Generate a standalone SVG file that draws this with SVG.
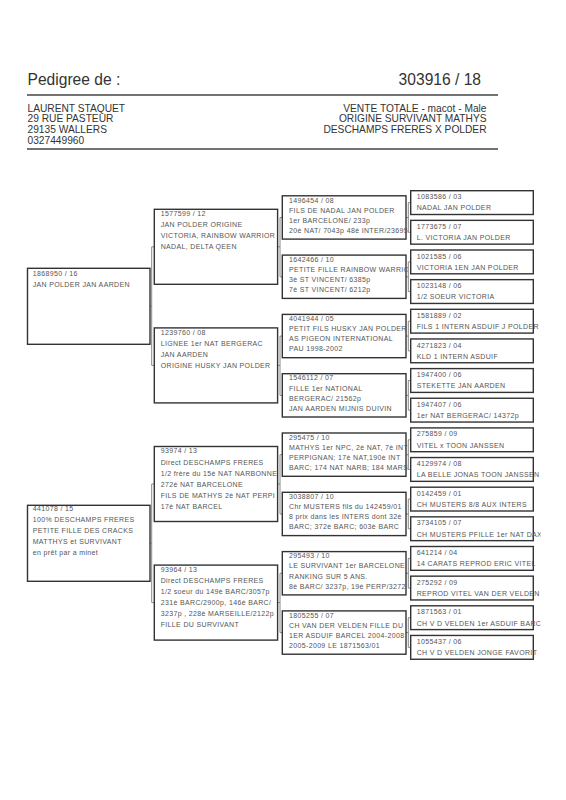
<svg xmlns="http://www.w3.org/2000/svg" width="566" height="800" viewBox="0 0 566 800">
<style>
.bg{fill:#fff}
.box{fill:#fff;stroke:#333;stroke-width:1.4}
.t{font-family:"Liberation Sans",Arial,sans-serif;font-size:7px;letter-spacing:0.35px;fill:#555}
.h1{font-family:"Liberation Sans",Arial,sans-serif;font-size:15.6px;fill:#333}
.h2{font-family:"Liberation Sans",Arial,sans-serif;font-size:10.2px;fill:#333}
.rule{stroke:#444;stroke-width:1.3}
.con{fill:none;stroke:#888;stroke-width:1}
</style>
<rect class="bg" x="0" y="0" width="566" height="800"/>
<g id="header">
<text class="h1" x="27.5" y="85">Pedigree de :</text>
<text class="h1" x="481" y="85" text-anchor="end">303916 / 18</text>
<line class="rule" x1="27" y1="95" x2="498" y2="95"/>
<text class="h2" x="27.5" y="111.5">LAURENT STAQUET</text>
<text class="h2" x="27.5" y="122.3">29 RUE PASTEUR</text>
<text class="h2" x="27.5" y="133">29135 WALLERS</text>
<text class="h2" x="27.5" y="143.8">0327449960</text>
<text class="h2" x="486.5" y="111.5" text-anchor="end">VENTE TOTALE - macot - Male</text>
<text class="h2" x="486.5" y="122.3" text-anchor="end">ORIGINE SURVIVANT MATHYS</text>
<text class="h2" x="486.5" y="133" text-anchor="end">DESCHAMPS FRERES X POLDER</text>
<line class="rule" x1="27" y1="149" x2="498" y2="149"/>
</g>
<g id="connectors">
<path class="con" d="M150 306.3H151.7M151.7 246.8V365.4M151.7 246.8H154.3M151.7 365.4H154.3"/>
<path class="con" d="M150 543.3H151.7M151.7 484V602.6M151.7 484H154.3M151.7 602.6H154.3"/>
<path class="con" d="M277.6 246.8H280M280 217.5V276.8M280 217.5H282.3M280 276.8H282.3"/>
<path class="con" d="M277.6 365.4H280M280 336.1V395.4M280 336.1H282.3M280 395.4H282.3"/>
<path class="con" d="M277.6 484H280M280 454.7V514M280 454.7H282.3M280 514H282.3"/>
<path class="con" d="M277.6 602.6H280M280 573.3V632.6M280 573.3H282.3M280 632.6H282.3"/>
<path class="con" d="M406 217.5H408.3M408.3 202.6V232.3M408.3 202.6H410.7M408.3 232.3H410.7"/>
<path class="con" d="M406 276.8H408.3M408.3 261.9V291.6M408.3 261.9H410.7M408.3 291.6H410.7"/>
<path class="con" d="M406 336.1H408.3M408.3 321.2V350.9M408.3 321.2H410.7M408.3 350.9H410.7"/>
<path class="con" d="M406 395.4H408.3M408.3 380.5V410.2M408.3 380.5H410.7M408.3 410.2H410.7"/>
<path class="con" d="M406 454.7H408.3M408.3 439.8V469.5M408.3 439.8H410.7M408.3 469.5H410.7"/>
<path class="con" d="M406 514H408.3M408.3 499.1V528.8M408.3 499.1H410.7M408.3 528.8H410.7"/>
<path class="con" d="M406 573.3H408.3M408.3 558.4V588.1M408.3 558.4H410.7M408.3 588.1H410.7"/>
<path class="con" d="M406 632.6H408.3M408.3 617.7V647.4M408.3 617.7H410.7M408.3 647.4H410.7"/>
</g>
<!-- Generation 1 -->
<g id="n1868950">
<rect class="box" x="27.5" y="268.3" width="122.5" height="76"/>
<text class="t" x="32.7" y="275.8">1868950 / 16</text>
<text class="t" x="32.7" y="286.8">JAN POLDER JAN AARDEN</text>
</g>
<g id="n441078">
<rect class="box" x="27.5" y="505.3" width="122.5" height="76"/>
<text class="t" x="32.7" y="511">441078 / 15</text>
<text class="t" x="32.7" y="522">100% DESCHAMPS FRERES</text>
<text class="t" x="32.7" y="533">PETITE FILLE DES CRACKS</text>
<text class="t" x="32.7" y="544">MATTHYS et  SURVIVANT</text>
<text class="t" x="32.7" y="555">en prêt par a minet</text>
</g>
<!-- Generation 2 -->
<g id="n1577599">
<rect class="box" x="154.3" y="209.3" width="123.3" height="75"/>
<svg x="154.3" y="209.3" width="123.3" height="75">
<text class="t" x="6.4" y="6.9">1577599 / 12</text>
<text class="t" x="6.4" y="18">JAN POLDER ORIGINE</text>
<text class="t" x="6.4" y="29.1">VICTORIA, RAINBOW WARRIOR</text>
<text class="t" x="6.4" y="40.2">NADAL, DELTA QEEN</text>
</svg>
</g>
<g id="n1239760">
<rect class="box" x="154.3" y="327.9" width="123.3" height="75"/>
<svg x="154.3" y="327.9" width="123.3" height="75">
<text class="t" x="6.4" y="6.9">1239760 / 08</text>
<text class="t" x="6.4" y="18">LIGNEE 1er NAT BERGERAC</text>
<text class="t" x="6.4" y="29.1">JAN AARDEN</text>
<text class="t" x="6.4" y="40.2">ORIGINE HUSKY JAN POLDER</text>
</svg>
</g>
<g id="n93974">
<rect class="box" x="154.3" y="446.5" width="123.3" height="75"/>
<svg x="154.3" y="446.5" width="123.3" height="75">
<text class="t" x="6.4" y="6.9">93974 / 13</text>
<text class="t" x="6.4" y="18">Direct DESCHAMPS FRERES</text>
<text class="t" x="6.4" y="29.1">1/2 frère du 15è NAT NARBONNE</text>
<text class="t" x="6.4" y="40.2">272è NAT BARCELONE</text>
<text class="t" x="6.4" y="51.3">FILS DE MATHYS 2è NAT PERPI</text>
<text class="t" x="6.4" y="62.4">17è NAT BARCEL</text>
</svg>
</g>
<g id="n93964">
<rect class="box" x="154.3" y="565.1" width="123.3" height="75"/>
<svg x="154.3" y="565.1" width="123.3" height="75">
<text class="t" x="6.4" y="6.9">93964 / 13</text>
<text class="t" x="6.4" y="18">Direct DESCHAMPS FRERES</text>
<text class="t" x="6.4" y="29.1">1/2 soeur du 149è BARC/3057p</text>
<text class="t" x="6.4" y="40.2">231è BARC/2900p, 146è BARC/</text>
<text class="t" x="6.4" y="51.3">3237p , 228è MARSEILLE/2122p</text>
<text class="t" x="6.4" y="62.4">FILLE DU SURVIVANT</text>
</svg>
</g>
<!-- Generation 3 -->
<g id="n1496454">
<rect class="box" x="282.3" y="195.8" width="123.7" height="43.3"/>
<svg x="282.3" y="195.8" width="125.5" height="43.3">
<text class="t" x="6.7" y="6.8">1496454 / 08</text>
<text class="t" x="6.7" y="16.9">FILS DE NADAL JAN POLDER</text>
<text class="t" x="6.7" y="27">1er BARCELONE/ 233p</text>
<text class="t" x="6.7" y="37.1">20è NAT/ 7043p 48è INTER/23695</text>
</svg>
</g>
<g id="n1642466">
<rect class="box" x="282.3" y="255.1" width="123.7" height="43.3"/>
<svg x="282.3" y="255.1" width="125.5" height="43.3">
<text class="t" x="6.7" y="6.8">1642466 / 10</text>
<text class="t" x="6.7" y="16.9">PETITE FILLE RAINBOW WARRIOR</text>
<text class="t" x="6.7" y="27">3è ST VINCENT/ 6385p</text>
<text class="t" x="6.7" y="37.1">7è ST VINCENT/ 6212p</text>
</svg>
</g>
<g id="n4041944">
<rect class="box" x="282.3" y="314.4" width="123.7" height="43.3"/>
<svg x="282.3" y="314.4" width="125.5" height="43.3">
<text class="t" x="6.7" y="6.8">4041944 / 05</text>
<text class="t" x="6.7" y="16.9">PETIT FILS HUSKY JAN POLDER</text>
<text class="t" x="6.7" y="27">AS PIGEON INTERNATIONAL</text>
<text class="t" x="6.7" y="37.1">PAU 1998-2002</text>
</svg>
</g>
<g id="n1546112">
<rect class="box" x="282.3" y="373.7" width="123.7" height="43.3"/>
<svg x="282.3" y="373.7" width="125.5" height="43.3">
<text class="t" x="6.7" y="6.8">1546112 / 07</text>
<text class="t" x="6.7" y="16.9">FILLE 1er NATIONAL</text>
<text class="t" x="6.7" y="27">BERGERAC/ 21562p</text>
<text class="t" x="6.7" y="37.1">JAN AARDEN MIJNIS DUIVIN</text>
</svg>
</g>
<g id="n295475">
<rect class="box" x="282.3" y="433" width="123.7" height="43.3"/>
<svg x="282.3" y="433" width="125.5" height="43.3">
<text class="t" x="6.7" y="6.8">295475 / 10</text>
<text class="t" x="6.7" y="16.9">MATHYS 1er NPC, 2è NAT, 7è INT</text>
<text class="t" x="6.7" y="27">PERPIGNAN; 17è NAT,190è INT</text>
<text class="t" x="6.7" y="37.1">BARC; 174 NAT NARB; 184 MARS</text>
</svg>
</g>
<g id="n3038807">
<rect class="box" x="282.3" y="492.3" width="123.7" height="43.3"/>
<svg x="282.3" y="492.3" width="125.5" height="43.3">
<text class="t" x="6.7" y="6.8">3038807 / 10</text>
<text class="t" x="6.7" y="16.9">Chr MUSTERS fils du 142459/01</text>
<text class="t" x="6.7" y="27">8 prix dans les INTERS dont 32è</text>
<text class="t" x="6.7" y="37.1">BARC; 372è BARC; 603è BARC</text>
</svg>
</g>
<g id="n295493">
<rect class="box" x="282.3" y="551.6" width="123.7" height="43.3"/>
<svg x="282.3" y="551.6" width="125.5" height="43.3">
<text class="t" x="6.7" y="6.8">295493 / 10</text>
<text class="t" x="6.7" y="16.9">LE SURVIVANT 1er BARCELONE</text>
<text class="t" x="6.7" y="27">RANKING SUR 5 ANS.</text>
<text class="t" x="6.7" y="37.1">8è BARC/ 3237p, 19è PERP/3272</text>
</svg>
</g>
<g id="n1805255">
<rect class="box" x="282.3" y="610.9" width="123.7" height="43.3"/>
<svg x="282.3" y="610.9" width="125.5" height="43.3">
<text class="t" x="6.7" y="6.8">1805255 / 07</text>
<text class="t" x="6.7" y="16.9">CH VAN DER VELDEN FILLE DU</text>
<text class="t" x="6.7" y="27">1ER ASDUIF BARCEL 2004-2008</text>
<text class="t" x="6.7" y="37.1">2005-2009 LE 1871563/01</text>
</svg>
</g>
<!-- Generation 4 -->
<g id="n1083586"><rect class="box" x="410.7" y="190.7" width="122.6" height="23.8"/><svg x="410.7" y="190.7" width="130" height="23.8"><text class="t" x="6" y="8.6">1083586 / 03</text><text class="t" x="6" y="19.8">NADAL JAN POLDER</text></svg></g>
<g id="n1773675"><rect class="box" x="410.7" y="220.35" width="122.6" height="23.8"/><svg x="410.7" y="220.35" width="130" height="23.8"><text class="t" x="6" y="8.6">1773675 / 07</text><text class="t" x="6" y="19.8">L. VICTORIA JAN POLDER</text></svg></g>
<g id="n1021585"><rect class="box" x="410.7" y="250" width="122.6" height="23.8"/><svg x="410.7" y="250" width="130" height="23.8"><text class="t" x="6" y="8.6">1021585 / 06</text><text class="t" x="6" y="19.8">VICTORIA 1EN JAN POLDER</text></svg></g>
<g id="n1023148"><rect class="box" x="410.7" y="279.65" width="122.6" height="23.8"/><svg x="410.7" y="279.65" width="130" height="23.8"><text class="t" x="6" y="8.6">1023148 / 06</text><text class="t" x="6" y="19.8">1/2 SOEUR VICTORIA</text></svg></g>
<g id="n1581889"><rect class="box" x="410.7" y="309.3" width="122.6" height="23.8"/><svg x="410.7" y="309.3" width="130" height="23.8"><text class="t" x="6" y="8.6">1581889 / 02</text><text class="t" x="6" y="19.8">FILS 1 INTERN ASDUIF J POLDER</text></svg></g>
<g id="n4271823"><rect class="box" x="410.7" y="338.95" width="122.6" height="23.8"/><svg x="410.7" y="338.95" width="130" height="23.8"><text class="t" x="6" y="8.6">4271823 / 04</text><text class="t" x="6" y="19.8">KLD 1 INTERN ASDUIF</text></svg></g>
<g id="n1947400"><rect class="box" x="410.7" y="368.6" width="122.6" height="23.8"/><svg x="410.7" y="368.6" width="130" height="23.8"><text class="t" x="6" y="8.6">1947400 / 06</text><text class="t" x="6" y="19.8">STEKETTE JAN AARDEN</text></svg></g>
<g id="n1947407"><rect class="box" x="410.7" y="398.25" width="122.6" height="23.8"/><svg x="410.7" y="398.25" width="130" height="23.8"><text class="t" x="6" y="8.6">1947407 / 06</text><text class="t" x="6" y="19.8">1er NAT BERGERAC/ 14372p</text></svg></g>
<g id="n275859"><rect class="box" x="410.7" y="427.9" width="122.6" height="23.8"/><svg x="410.7" y="427.9" width="130" height="23.8"><text class="t" x="6" y="8.6">275859 / 09</text><text class="t" x="6" y="19.8">VITEL x TOON JANSSEN</text></svg></g>
<g id="n4129974"><rect class="box" x="410.7" y="457.55" width="122.6" height="23.8"/><svg x="410.7" y="457.55" width="130" height="23.8"><text class="t" x="6" y="8.6">4129974 / 08</text><text class="t" x="6" y="19.8">LA BELLE JONAS TOON JANSSEN</text></svg></g>
<g id="n0142459"><rect class="box" x="410.7" y="487.2" width="122.6" height="23.8"/><svg x="410.7" y="487.2" width="130" height="23.8"><text class="t" x="6" y="8.6">0142459 / 01</text><text class="t" x="6" y="19.8">CH MUSTERS 8/8 AUX INTERS</text></svg></g>
<g id="n3734105"><rect class="box" x="410.7" y="516.85" width="122.6" height="23.8"/><svg x="410.7" y="516.85" width="130" height="23.8"><text class="t" x="6" y="8.6">3734105 / 07</text><text class="t" x="6" y="19.8">CH MUSTERS PFILLE 1er NAT DAX</text></svg></g>
<g id="n641214"><rect class="box" x="410.7" y="546.5" width="122.6" height="23.8"/><svg x="410.7" y="546.5" width="130" height="23.8"><text class="t" x="6" y="8.6">641214 / 04</text><text class="t" x="6" y="19.8">14 CARATS REPROD ERIC VITEL</text></svg></g>
<g id="n275292"><rect class="box" x="410.7" y="576.15" width="122.6" height="23.8"/><svg x="410.7" y="576.15" width="130" height="23.8"><text class="t" x="6" y="8.6">275292 / 09</text><text class="t" x="6" y="19.8">REPROD VITEL VAN DER VELDEN</text></svg></g>
<g id="n1871563"><rect class="box" x="410.7" y="605.8" width="122.6" height="23.8"/><svg x="410.7" y="605.8" width="130" height="23.8"><text class="t" x="6" y="8.6">1871563 / 01</text><text class="t" x="6" y="19.8">CH V D VELDEN 1er ASDUIF BARC</text></svg></g>
<g id="n1055437"><rect class="box" x="410.7" y="635.45" width="122.6" height="23.8"/><svg x="410.7" y="635.45" width="130" height="23.8"><text class="t" x="6" y="8.6">1055437 / 06</text><text class="t" x="6" y="19.8">CH V D VELDEN JONGE FAVORIT</text></svg></g>
</svg>
